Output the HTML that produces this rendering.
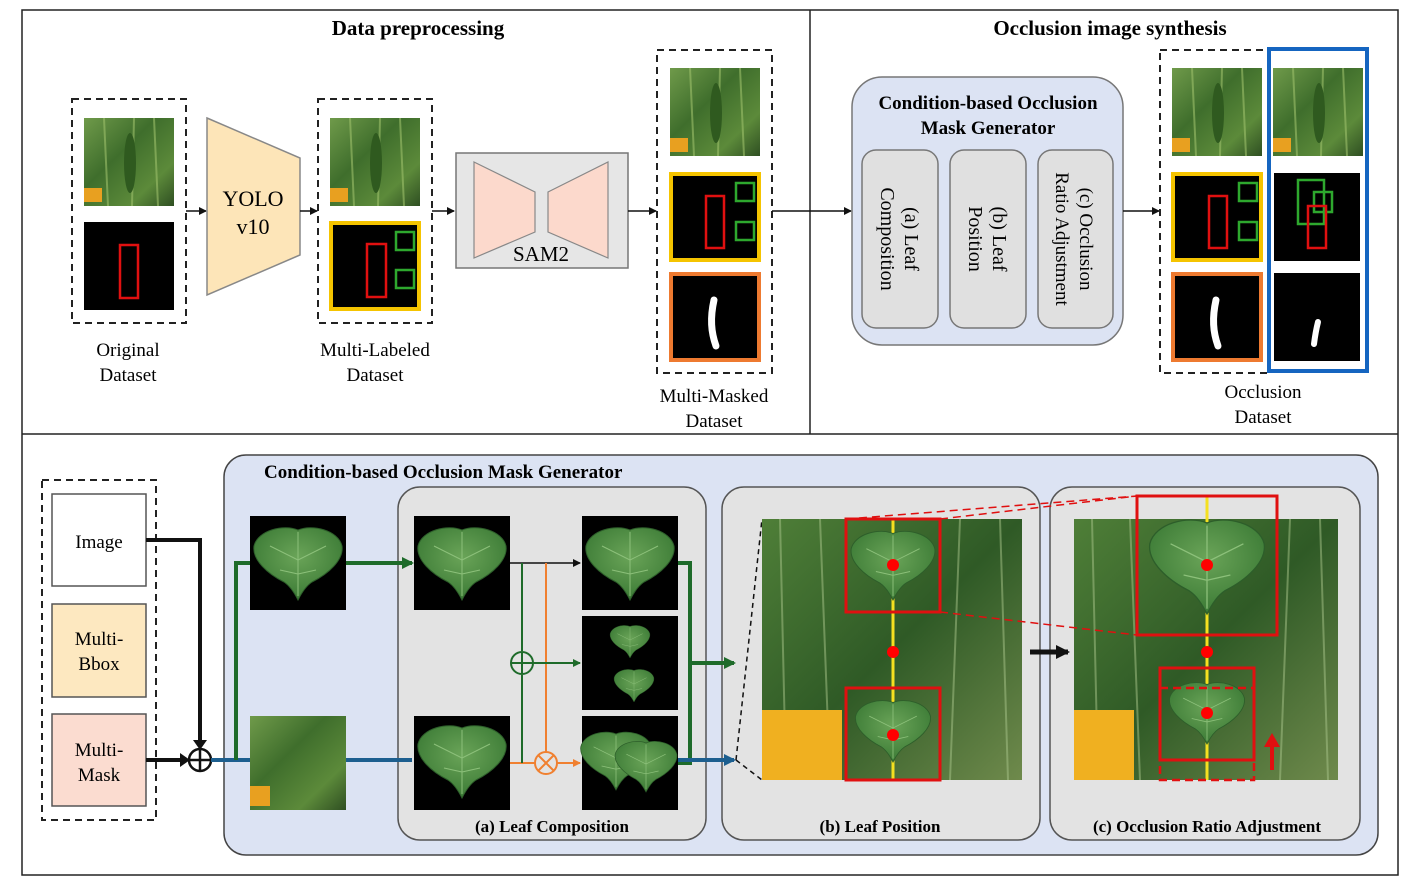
<!DOCTYPE html>
<html><head><meta charset="utf-8"><style>
html,body{margin:0;padding:0;background:#fff;}
svg{display:block;font-family:"Liberation Serif",serif;}
</style></head><body>
<svg width="1418" height="888" viewBox="0 0 1418 888" xmlns="http://www.w3.org/2000/svg">
<defs>
<linearGradient id="plant" x1="0" y1="0" x2="1" y2="1">
<stop offset="0" stop-color="#6f9a4a"/><stop offset="0.4" stop-color="#3f6e2c"/><stop offset="0.75" stop-color="#5c8a3a"/><stop offset="1" stop-color="#2f4f22"/></linearGradient>
<linearGradient id="photo" x1="0" y1="0" x2="1" y2="1">
<stop offset="0" stop-color="#4f7f38"/><stop offset="0.5" stop-color="#2f5a26"/><stop offset="1" stop-color="#6f8a4c"/></linearGradient>
<radialGradient id="leafg" cx="0.5" cy="0.4" r="0.6"><stop offset="0" stop-color="#6aa458"/><stop offset="1" stop-color="#3b7a35"/></radialGradient>
<marker id="ab" markerWidth="8" markerHeight="8" refX="7" refY="4" orient="auto" markerUnits="userSpaceOnUse"><path d="M0,0 L8,4 L0,8 z" fill="#111"/></marker>
<marker id="ag" markerWidth="12" markerHeight="12" refX="10" refY="6" orient="auto" markerUnits="userSpaceOnUse"><path d="M0,0 L12,6 L0,12 z" fill="#1e6b2a"/></marker>
<marker id="abl" markerWidth="12" markerHeight="12" refX="10" refY="6" orient="auto" markerUnits="userSpaceOnUse"><path d="M0,0 L12,6 L0,12 z" fill="#1d5f8f"/></marker>
<marker id="ao" markerWidth="8" markerHeight="8" refX="7" refY="4" orient="auto" markerUnits="userSpaceOnUse"><path d="M0,0 L8,4 L0,8 z" fill="#f08030"/></marker>
<marker id="ag2" markerWidth="8" markerHeight="8" refX="7" refY="4" orient="auto" markerUnits="userSpaceOnUse"><path d="M0,0 L8,4 L0,8 z" fill="#1e6b2a"/></marker>
<marker id="abk" markerWidth="14" markerHeight="14" refX="12" refY="7" orient="auto" markerUnits="userSpaceOnUse"><path d="M0,0 L14,7 L0,14 z" fill="#111"/></marker>
<g id="leaf"><path d="M0,-30 C14,-36 40,-30 44,-14 C46,0 30,14 14,22 C8,26 4,32 0,40 C-4,32 -8,26 -14,22 C-30,14 -46,0 -44,-14 C-40,-30 -14,-36 0,-30 Z" fill="url(#leafg)" stroke="#2d5e2a" stroke-width="1"/><path d="M0,-28 L0,36 M0,0 L-28,-14 M0,0 L28,-14 M0,14 L-18,10 M0,14 L18,10" stroke="#8cc07a" stroke-width="1" fill="none"/></g>
<g id="plantimg"><rect width="90" height="88" fill="url(#plant)"/><path d="M20,0 L24,88 M50,0 L48,88 M70,0 L74,88" stroke="#9cbf6a" stroke-width="2" opacity="0.6"/><ellipse cx="46" cy="45" rx="6" ry="30" fill="#2f5a1f"/><rect x="0" y="70" width="18" height="14" fill="#e8a020"/></g>
</defs>

<!-- frames -->
<rect x="22" y="10" width="1376" height="865" fill="none" stroke="#222" stroke-width="1.5"/>
<line x1="22" y1="434" x2="1398" y2="434" stroke="#222" stroke-width="1.5"/>
<line x1="810" y1="10" x2="810" y2="434" stroke="#222" stroke-width="1.5"/>
<text x="418" y="35" font-size="21" font-weight="bold" text-anchor="middle">Data preprocessing</text>
<text x="1110" y="35" font-size="21" font-weight="bold" text-anchor="middle">Occlusion image synthesis</text>

<!-- Original dataset -->
<rect x="72" y="99" width="114" height="224" fill="none" stroke="#222" stroke-width="2" stroke-dasharray="7,5"/>
<use href="#plantimg" x="84" y="118"/>
<rect x="84" y="222" width="90" height="88" fill="#000"/>
<rect x="120" y="245" width="18" height="53" fill="none" stroke="#e01010" stroke-width="2.5"/>
<text x="128" y="356" font-size="19" text-anchor="middle">Original</text>
<text x="128" y="381" font-size="19" text-anchor="middle">Dataset</text>

<line x1="186" y1="211" x2="206" y2="211" stroke="#111" stroke-width="1.5" marker-end="url(#ab)"/>
<polygon points="207,118 300,158 300,255 207,295" fill="#fde5b8" stroke="#888" stroke-width="1.5"/>
<text x="253" y="206" font-size="22" text-anchor="middle">YOLO</text>
<text x="253" y="234" font-size="22" text-anchor="middle">v10</text>
<line x1="300" y1="211" x2="317" y2="211" stroke="#111" stroke-width="1.5" marker-end="url(#ab)"/>

<!-- Multi-labeled -->
<rect x="318" y="99" width="114" height="224" fill="none" stroke="#222" stroke-width="2" stroke-dasharray="7,5"/>
<use href="#plantimg" x="330" y="118"/>
<rect x="331" y="223" width="88" height="86" fill="#000" stroke="#f5c400" stroke-width="4"/>
<rect x="367" y="244" width="19" height="53" fill="none" stroke="#e01010" stroke-width="2.5"/>
<rect x="396" y="232" width="18" height="18" fill="none" stroke="#2ea82e" stroke-width="2.5"/>
<rect x="396" y="270" width="18" height="18" fill="none" stroke="#2ea82e" stroke-width="2.5"/>
<text x="375" y="356" font-size="19" text-anchor="middle">Multi-Labeled</text>
<text x="375" y="381" font-size="19" text-anchor="middle">Dataset</text>

<line x1="432" y1="211" x2="454" y2="211" stroke="#111" stroke-width="1.5" marker-end="url(#ab)"/>
<rect x="456" y="153" width="172" height="115" fill="#e6e6e6" stroke="#777" stroke-width="1.5"/>
<polygon points="474,162 535,192 535,232 474,258" fill="#fcd9cc" stroke="#888" stroke-width="1.2"/>
<polygon points="548,192 608,162 608,258 548,232" fill="#fcd9cc" stroke="#888" stroke-width="1.2"/>
<text x="541" y="261" font-size="21" text-anchor="middle">SAM2</text>
<line x1="628" y1="211" x2="656" y2="211" stroke="#111" stroke-width="1.5" marker-end="url(#ab)"/>

<!-- Multi-masked -->
<rect x="657" y="50" width="115" height="323" fill="none" stroke="#222" stroke-width="2" stroke-dasharray="7,5"/>
<use href="#plantimg" x="670" y="68"/>
<rect x="671" y="174" width="88" height="86" fill="#000" stroke="#f5c400" stroke-width="4"/>
<rect x="706" y="196" width="18" height="52" fill="none" stroke="#e01010" stroke-width="2.5"/>
<rect x="736" y="183" width="18" height="18" fill="none" stroke="#2ea82e" stroke-width="2.5"/>
<rect x="736" y="222" width="18" height="18" fill="none" stroke="#2ea82e" stroke-width="2.5"/>
<rect x="671" y="274" width="88" height="86" fill="#000" stroke="#ee7a30" stroke-width="4"/>
<path d="M714,300 C710,318 711,332 716,346" stroke="#fff" stroke-width="7" fill="none" stroke-linecap="round"/>
<text x="714" y="402" font-size="19" text-anchor="middle">Multi-Masked</text>
<text x="714" y="427" font-size="19" text-anchor="middle">Dataset</text>

<line x1="772" y1="211" x2="851" y2="211" stroke="#111" stroke-width="1.5" marker-end="url(#ab)"/>
<rect x="852" y="77" width="271" height="268" rx="30" fill="#dce3f3" stroke="#777" stroke-width="1.5"/>
<text x="988" y="109" font-size="19" font-weight="bold" text-anchor="middle">Condition-based Occlusion</text>
<text x="988" y="134" font-size="19" font-weight="bold" text-anchor="middle">Mask Generator</text>
<rect x="862" y="150" width="76" height="178" rx="14" fill="#e0e0e0" stroke="#777" stroke-width="1.5"/>
<rect x="950" y="150" width="76" height="178" rx="14" fill="#e0e0e0" stroke="#777" stroke-width="1.5"/>
<rect x="1038" y="150" width="75" height="178" rx="14" fill="#e0e0e0" stroke="#777" stroke-width="1.5"/>
<g font-size="20" text-anchor="middle">
<text transform="translate(900,239) rotate(90)"><tspan x="0" y="-5">(a) Leaf</tspan><tspan x="0" y="19">Composition</tspan></text>
<text transform="translate(988,239) rotate(90)"><tspan x="0" y="-5">(b) Leaf</tspan><tspan x="0" y="19">Position</tspan></text>
<text transform="translate(1075,239) rotate(90)" font-size="19"><tspan x="0" y="-5">(c) Occlusion</tspan><tspan x="0" y="19">Ratio Adjustment</tspan></text>
</g>
<line x1="1123" y1="211" x2="1159" y2="211" stroke="#111" stroke-width="1.5" marker-end="url(#ab)"/>

<!-- Occlusion dataset -->
<rect x="1160" y="50" width="108" height="323" fill="none" stroke="#222" stroke-width="2" stroke-dasharray="7,5"/>
<use href="#plantimg" x="1172" y="68"/>
<rect x="1173" y="174" width="88" height="86" fill="#000" stroke="#f5c400" stroke-width="4"/>
<rect x="1209" y="196" width="18" height="52" fill="none" stroke="#e01010" stroke-width="2.5"/>
<rect x="1239" y="183" width="18" height="18" fill="none" stroke="#2ea82e" stroke-width="2.5"/>
<rect x="1239" y="222" width="18" height="18" fill="none" stroke="#2ea82e" stroke-width="2.5"/>
<rect x="1173" y="274" width="88" height="86" fill="#000" stroke="#ee7a30" stroke-width="4"/>
<path d="M1216,300 C1212,318 1213,332 1218,346" stroke="#fff" stroke-width="7" fill="none" stroke-linecap="round"/>
<rect x="1269" y="49" width="98" height="322" fill="none" stroke="#1565c0" stroke-width="4"/>
<use href="#plantimg" x="1273" y="68"/>
<rect x="1274" y="173" width="86" height="88" fill="#000"/>
<rect x="1298" y="180" width="26" height="44" fill="none" stroke="#2ea82e" stroke-width="2.5"/>
<rect x="1314" y="192" width="18" height="20" fill="none" stroke="#2ea82e" stroke-width="2.5"/>
<rect x="1308" y="206" width="18" height="42" fill="none" stroke="#e01010" stroke-width="2.5"/>
<rect x="1274" y="273" width="86" height="88" fill="#000"/>
<path d="M1318,322 C1316,330 1315,336 1314,344" stroke="#fff" stroke-width="6" fill="none" stroke-linecap="round"/>
<text x="1263" y="398" font-size="19" text-anchor="middle">Occlusion</text>
<text x="1263" y="423" font-size="19" text-anchor="middle">Dataset</text>

<!-- Bottom -->
<rect x="42" y="480" width="114" height="340" fill="none" stroke="#222" stroke-width="2" stroke-dasharray="7,5"/>
<rect x="52" y="494" width="94" height="92" fill="#fff" stroke="#555" stroke-width="1.5"/>
<text x="99" y="548" font-size="19" text-anchor="middle">Image</text>
<rect x="52" y="604" width="94" height="93" fill="#fde8c0" stroke="#555" stroke-width="1.5"/>
<text x="99" y="645" font-size="19" text-anchor="middle">Multi-</text>
<text x="99" y="670" font-size="19" text-anchor="middle">Bbox</text>
<rect x="52" y="714" width="94" height="92" fill="#fbdcd0" stroke="#555" stroke-width="1.5"/>
<text x="99" y="756" font-size="19" text-anchor="middle">Multi-</text>
<text x="99" y="781" font-size="19" text-anchor="middle">Mask</text>

<rect x="224" y="455" width="1154" height="400" rx="22" fill="#dce3f3" stroke="#444" stroke-width="1.5"/>
<text x="264" y="478" font-size="19" font-weight="bold">Condition-based Occlusion Mask Generator</text>
<rect x="398" y="487" width="308" height="353" rx="22" fill="#e3e3e3" stroke="#555" stroke-width="1.5"/>
<rect x="722" y="487" width="318" height="353" rx="22" fill="#e3e3e3" stroke="#555" stroke-width="1.5"/>
<rect x="1050" y="487" width="310" height="353" rx="22" fill="#e3e3e3" stroke="#555" stroke-width="1.5"/>
<text x="552" y="832" font-size="17" font-weight="bold" text-anchor="middle">(a) Leaf Composition</text>
<text x="880" y="832" font-size="17" font-weight="bold" text-anchor="middle">(b) Leaf Position</text>
<text x="1207" y="832" font-size="17" font-weight="bold" text-anchor="middle">(c) Occlusion Ratio Adjustment</text>

<!-- input arrows -->
<path d="M146,540 L200,540 L200,747" stroke="#111" stroke-width="4" fill="none"/>
<polygon points="193,740 207,740 200,750" fill="#111"/>
<line x1="146" y1="760" x2="186" y2="760" stroke="#111" stroke-width="4"/>
<polygon points="180,753 190,760 180,767" fill="#111"/>
<circle cx="200" cy="760" r="11" fill="#fff" stroke="#111" stroke-width="2.5"/>
<path d="M189,760 H211 M200,749 V771" stroke="#111" stroke-width="2.5"/>
<line x1="211" y1="760" x2="250" y2="760" stroke="#1d5f8f" stroke-width="4"/>
<path d="M236,760 V563 H250" stroke="#1e6b2a" stroke-width="4" fill="none"/>

<!-- images left column -->
<rect x="250" y="516" width="96" height="94" fill="#000"/>
<use href="#leaf" transform="translate(298,560) scale(1)"/>
<rect x="250" y="716" width="96" height="94" fill="url(#plant)"/>
<rect x="250" y="786" width="20" height="20" fill="#e8a020"/>
<line x1="346" y1="563" x2="412" y2="563" stroke="#1e6b2a" stroke-width="4" marker-end="url(#ag)"/>
<line x1="346" y1="760" x2="412" y2="760" stroke="#1d5f8f" stroke-width="4"/>

<!-- (a) -->
<rect x="414" y="516" width="96" height="94" fill="#000"/>
<use href="#leaf" transform="translate(462,560)"/>
<rect x="414" y="716" width="96" height="94" fill="#000"/>
<use href="#leaf" transform="translate(462,758)"/>
<rect x="582" y="516" width="96" height="94" fill="#000"/>
<use href="#leaf" transform="translate(630,560)"/>
<rect x="582" y="616" width="96" height="94" fill="#000"/>
<use href="#leaf" transform="translate(630,640) scale(0.45)"/>
<use href="#leaf" transform="translate(634,684) scale(0.45)"/>
<rect x="582" y="716" width="96" height="94" fill="#000"/>
<use href="#leaf" transform="translate(616,758) scale(0.8)"/>
<use href="#leaf" transform="translate(646,764) scale(0.7)"/>
<line x1="510" y1="563" x2="580" y2="563" stroke="#111" stroke-width="1.5" marker-end="url(#ab)"/>
<path d="M522,563 V651" stroke="#1e6b2a" stroke-width="2" fill="none"/>
<path d="M546,563 V752" stroke="#f08030" stroke-width="2" fill="none"/>
<path d="M510,763 H535" stroke="#f08030" stroke-width="2"/>
<path d="M522,763 V675" stroke="#1e6b2a" stroke-width="2"/>
<circle cx="522" cy="663" r="11" fill="none" stroke="#1e6b2a" stroke-width="2"/>
<path d="M511,663 H533 M522,652 V674" stroke="#1e6b2a" stroke-width="2"/>
<line x1="533" y1="663" x2="580" y2="663" stroke="#1e6b2a" stroke-width="2" marker-end="url(#ag2)"/>
<circle cx="546" cy="763" r="11" fill="none" stroke="#f08030" stroke-width="2"/>
<path d="M538,755 L554,771 M554,755 L538,771" stroke="#f08030" stroke-width="2"/>
<line x1="557" y1="763" x2="580" y2="763" stroke="#f08030" stroke-width="2" marker-end="url(#ao)"/>
<path d="M678,563 H690 V763 H678" stroke="#1e6b2a" stroke-width="4" fill="none"/>
<line x1="690" y1="663" x2="734" y2="663" stroke="#1e6b2a" stroke-width="4" marker-end="url(#ag)"/>
<line x1="678" y1="760" x2="734" y2="760" stroke="#1d5f8f" stroke-width="4" marker-end="url(#abl)"/>

<!-- (b) -->
<path d="M736,760 L762,519 M736,760 L762,780" stroke="#111" stroke-width="1.5" stroke-dasharray="5,4"/>
<rect x="762" y="519" width="260" height="261" fill="url(#photo)"/>
<path d="M780,519 L786,780 M820,519 L830,780 M960,519 L950,780 M1000,519 L1008,780" stroke="#a8c48a" stroke-width="2" opacity="0.5"/>
<rect x="762" y="710" width="80" height="70" fill="#f0b020"/>
<line x1="893" y1="519" x2="893" y2="780" stroke="#f5e020" stroke-width="3"/>
<use href="#leaf" transform="translate(893,562) scale(0.95)"/>
<use href="#leaf" transform="translate(893,728) scale(0.85)"/>
<rect x="846" y="519" width="94" height="93" fill="none" stroke="#e01010" stroke-width="3"/>
<rect x="846" y="688" width="94" height="92" fill="none" stroke="#e01010" stroke-width="3"/>
<circle cx="893" cy="565" r="6" fill="#f00"/>
<circle cx="893" cy="652" r="6" fill="#f00"/>
<circle cx="893" cy="735" r="6" fill="#f00"/>
<line x1="1030" y1="652" x2="1068" y2="652" stroke="#111" stroke-width="5" marker-end="url(#abk)"/>

<!-- (c) -->
<rect x="1074" y="519" width="264" height="261" fill="url(#photo)"/>
<path d="M1092,519 L1098,780 M1130,519 L1140,780 M1290,519 L1280,780 M1320,519 L1328,780" stroke="#a8c48a" stroke-width="2" opacity="0.5"/>
<rect x="1074" y="710" width="60" height="70" fill="#f0b020"/>
<line x1="1207" y1="496" x2="1207" y2="780" stroke="#f5e020" stroke-width="3"/>
<use href="#leaf" transform="translate(1207,562) scale(1.3)"/>
<use href="#leaf" transform="translate(1207,710) scale(0.85)"/>
<rect x="1137" y="496" width="140" height="139" fill="none" stroke="#e01010" stroke-width="3"/>
<rect x="1160" y="668" width="94" height="92" fill="none" stroke="#e01010" stroke-width="3"/>
<rect x="1160" y="688" width="94" height="92" fill="none" stroke="#e01010" stroke-width="2.5" stroke-dasharray="8,5"/>
<circle cx="1207" cy="565" r="6" fill="#f00"/>
<circle cx="1207" cy="652" r="6" fill="#f00"/>
<circle cx="1207" cy="713" r="6" fill="#f00"/>
<path d="M1272,770 V745" stroke="#e01010" stroke-width="4"/>
<polygon points="1264,747 1272,733 1280,747" fill="#e01010"/>
<path d="M940,519 L1137,496 M940,612 L1137,635 M846,519 L1137,496" stroke="#e01010" stroke-width="1.5" stroke-dasharray="8,5" fill="none"/>
</svg>
</body></html>
